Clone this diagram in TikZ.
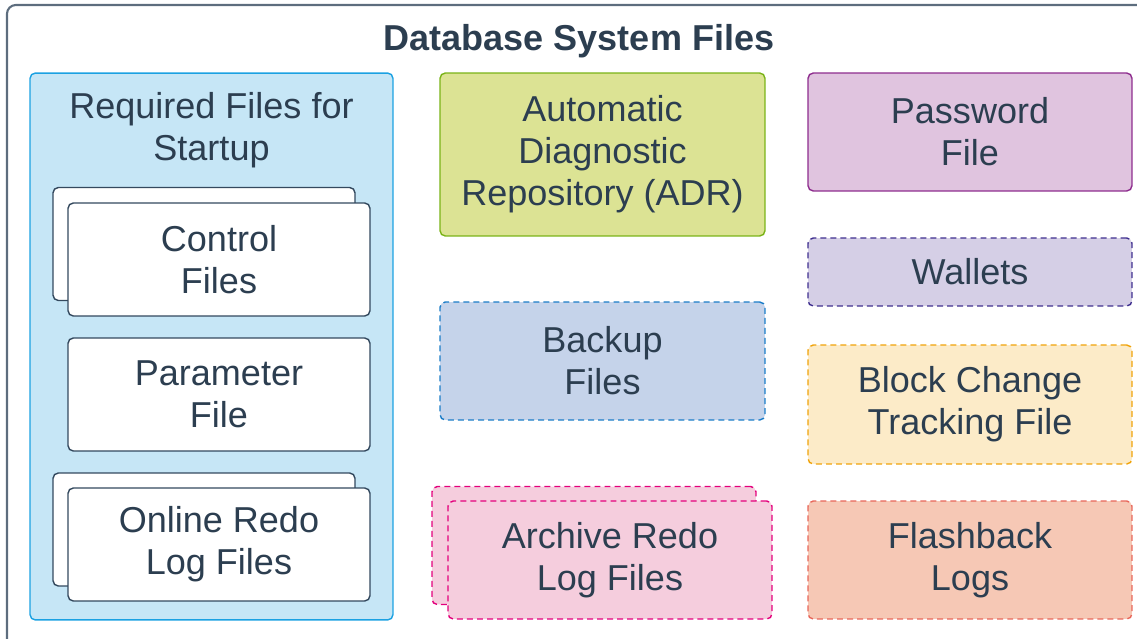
\documentclass[tikz,border=0pt]{standalone}
\usepackage{fontspec}
\setmainfont{Liberation Sans}
\usepackage{xcolor}
\usetikzlibrary{positioning}

\definecolor{textdark}{HTML}{2C3E50}
\definecolor{framegray}{HTML}{5D6D7E}
\definecolor{filedark}{HTML}{34495E}
\definecolor{reqfill}{HTML}{C6E6F6}
\definecolor{reqline}{HTML}{1BA1E2}
\definecolor{adrfill}{HTML}{DCE394}
\definecolor{adrline}{HTML}{7AB317}
\definecolor{pwdfill}{HTML}{E0C4DF}
\definecolor{pwdline}{HTML}{8E2D8E}
\definecolor{walfill}{HTML}{D5CFE6}
\definecolor{walline}{HTML}{3F2F8F}
\definecolor{bakfill}{HTML}{C5D3EA}
\definecolor{bakline}{HTML}{1A7CC8}
\definecolor{bctfill}{HTML}{FCEBC8}
\definecolor{bctline}{HTML}{F0A30A}
\definecolor{arcfill}{HTML}{F5CDDD}
\definecolor{arcline}{HTML}{E3007C}
\definecolor{fbfill}{HTML}{F6C8B5}
\definecolor{fbline}{HTML}{E8675A}

\begin{document}
\begin{tikzpicture}[x=0.02cm, y=-0.02cm,
    box/.style={rounded corners=3pt, line width=0.8pt, align=center, text=textdark,
        font=\fontsize{20.5}{23.8}\selectfont, inner sep=0pt},
    dashbox/.style={box, dash pattern=on 3.4pt off 2.3pt},
    filebox/.style={box, draw=filedark, fill=white, minimum width=6.04cm, minimum height=2.26cm},
    sidebox/.style={minimum width=6.48cm, minimum height=2.36cm}]
    \useasboundingbox (0,0) rectangle (1137,639);
    \clip (0,0) rectangle (1137,639);

    % outer frame and title
    \draw[framegray, line width=1.2pt, rounded corners=5pt] (7,5) rectangle (1170,680);
    \node[box, font=\fontsize{20.5}{24}\selectfont\bfseries] (title) at (579,41) {Database System Files};

    % required files for startup
    \node[box, draw=reqline, fill=reqfill, minimum width=7.26cm, minimum height=10.94cm] (req) at (211.5,346.5) {};
    \node[box] (reqlabel) at (211.5,130) {Required Files for\\Startup};
    \node[filebox] (ctrlback) at (204,244) {};
    \node[filebox] (ctrl) at (219,259.5) {Control\\Files};
    \node[filebox] (param) at (219,394.5) {Parameter\\File};
    \node[filebox] (redoback) at (204,529.5) {};
    \node[filebox] (redo) at (219,544.5) {Online Redo\\Log Files};

    % middle column
    \node[box, draw=adrline, fill=adrfill, minimum width=6.5cm, minimum height=3.26cm] (adr) at (602.5,154.5)
        {Automatic\\Diagnostic\\Repository (ADR)};
    \node[dashbox, draw=bakline, fill=bakfill, minimum width=6.5cm, minimum height=2.36cm] (backup) at (602.5,361)
        {Backup\\Files};
    \node[dashbox, sidebox, draw=arcline, fill=arcfill] (archback) at (594,545.5) {};
    \node[dashbox, sidebox, draw=arcline, fill=arcfill] (archive) at (610,560) {Archive Redo\\Log Files};

    % right column
    \node[box, sidebox, draw=pwdline, fill=pwdfill] (pwd) at (970,132) {Password\\File};
    \node[dashbox, sidebox, draw=walline, fill=walfill, minimum height=1.36cm] (wallets) at (970,272) {Wallets};
    \node[dashbox, sidebox, draw=bctline, fill=bctfill, minimum height=2.38cm] (bct) at (970,404.5)
        {Block Change\\Tracking File};
    \node[dashbox, sidebox, draw=fbline, fill=fbfill] (flash) at (970,560) {Flashback\\Logs};
\end{tikzpicture}
\end{document}
